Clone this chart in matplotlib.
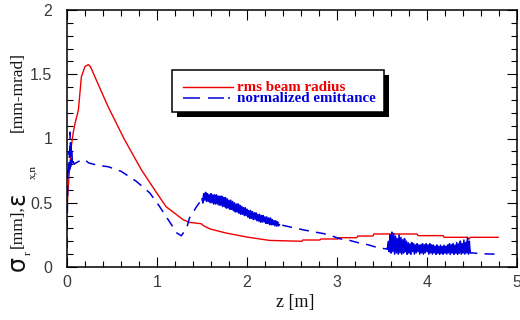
import numpy as np
import matplotlib
matplotlib.use("Agg")
import matplotlib.pyplot as plt
from matplotlib.ticker import MultipleLocator, FormatStrFormatter
from matplotlib.patches import Rectangle
from matplotlib.lines import Line2D

plt.rcParams['lines.scale_dashes'] = False

# rms beam radius [mm] vs z [m]
radius_z = [0.0, 0.005, 0.01, 0.02, 0.03, 0.04, 0.05, 0.07, 0.09, 0.126, 0.16, 0.2,
            0.237, 0.26, 0.31, 0.455, 0.64, 0.826, 0.974, 1.1, 1.29, 1.36, 1.49,
            1.52, 1.59, 1.77, 2.0, 2.25, 2.61, 2.62, 2.81, 2.82, 3.01, 3.02, 3.22,
            3.23, 3.40, 3.41, 3.89, 3.90, 4.18, 4.19, 4.45, 4.46, 4.47, 4.48, 4.79]
radius_mm = [0.45, 0.50, 0.59, 0.68, 0.78, 0.85, 0.95, 1.05, 1.12, 1.22, 1.48, 1.56,
             1.575, 1.56, 1.48, 1.25, 0.99, 0.757, 0.60, 0.47, 0.368, 0.347, 0.337,
             0.32, 0.296, 0.264, 0.233, 0.207, 0.20, 0.21, 0.21, 0.218, 0.218, 0.228,
             0.228, 0.241, 0.241, 0.257, 0.257, 0.244, 0.244, 0.231, 0.231, 0.218,
             0.218, 0.231, 0.231]

# normalized emittance [mm-mrad], read in pieces
emit_head_z = [0.0, 0.005, 0.01, 0.015, 0.02, 0.025, 0.03, 0.035, 0.04, 0.045, 0.05,
               0.055, 0.06, 0.07, 0.08, 0.1, 0.15, 0.2, 0.24, 0.35, 0.46, 0.6, 0.77,
               0.92, 1.015, 1.125, 1.16, 1.22, 1.27, 1.33, 1.36, 1.44]
emit_head = [0.15, 0.5, 0.72, 0.78, 0.74, 0.9, 0.76, 1.05, 0.78, 0.98, 0.8,
             0.9, 0.79, 0.82, 0.8, 0.81, 0.83, 0.835, 0.81, 0.79, 0.78, 0.745, 0.667,
             0.576, 0.485, 0.368, 0.33, 0.265, 0.243, 0.303, 0.38, 0.47]

# noisy stretch 1.50 .. 2.36 m, every 0.01 m
emit_noise1 = [0.53, 0.50, 0.57, 0.52, 0.58, 0.51, 0.57, 0.51, 0.56, 0.50,
               0.57, 0.50, 0.56, 0.49, 0.56, 0.49, 0.56, 0.49, 0.55, 0.48,
               0.55, 0.48, 0.55, 0.47, 0.54, 0.47, 0.54, 0.46, 0.53, 0.46,
               0.52, 0.45, 0.52, 0.45, 0.51, 0.44, 0.50, 0.43, 0.49, 0.43,
               0.49, 0.42, 0.48, 0.41, 0.47, 0.41, 0.46, 0.40, 0.46, 0.40,
               0.45, 0.39, 0.44, 0.38, 0.44, 0.38, 0.43, 0.37, 0.42, 0.37,
               0.42, 0.36, 0.41, 0.36, 0.41, 0.35, 0.40, 0.35, 0.40, 0.35,
               0.39, 0.34, 0.39, 0.34, 0.38, 0.33, 0.38, 0.33, 0.37, 0.33,
               0.36, 0.32, 0.36, 0.32, 0.35, 0.32, 0.33]

emit_mid_z = [2.45, 2.55, 2.62, 2.73, 2.85, 2.93, 3.03, 3.14, 3.23, 3.34, 3.44, 3.50]
emit_mid = [0.316, 0.30, 0.29, 0.275, 0.26, 0.245, 0.22, 0.207, 0.19, 0.174, 0.153, 0.145]

# noisy stretch 3.56 .. 4.48 m, every 0.01 m
emit_noise2 = [0.14, 0.20, 0.12, 0.25, 0.11, 0.27, 0.12, 0.26, 0.10, 0.24,
               0.11, 0.22, 0.10, 0.25, 0.11, 0.23, 0.10, 0.21, 0.11, 0.22,
               0.12, 0.20, 0.10, 0.19, 0.11, 0.18, 0.10, 0.19, 0.12, 0.18,
               0.10, 0.17, 0.11, 0.18, 0.12, 0.17, 0.10, 0.17, 0.11, 0.18,
               0.10, 0.17, 0.11, 0.18, 0.12, 0.17, 0.10, 0.18, 0.11, 0.17,
               0.10, 0.17, 0.11, 0.16, 0.10, 0.17, 0.11, 0.16, 0.10, 0.17,
               0.11, 0.16, 0.10, 0.17, 0.11, 0.16, 0.10, 0.17, 0.11, 0.18,
               0.10, 0.17, 0.11, 0.18, 0.10, 0.17, 0.11, 0.19, 0.10, 0.18,
               0.11, 0.20, 0.10, 0.18, 0.11, 0.21, 0.10, 0.19, 0.11, 0.23,
               0.10, 0.20, 0.11]

emit_tail_z = [4.50, 4.60, 4.76]
emit_tail = [0.11, 0.103, 0.10]

noise1_z = np.linspace(1.50, 2.36, len(emit_noise1))
noise2_z = np.linspace(3.56, 4.48, len(emit_noise2))
emit_z = np.concatenate([emit_head_z, noise1_z, emit_mid_z, noise2_z, emit_tail_z])
emit_val = np.concatenate([emit_head, emit_noise1, emit_mid, emit_noise2, emit_tail])

RED = '#ee0000'
BLUE = '#0000dd'

fig = plt.figure(figsize=(5.2, 3.2), dpi=100)
ax = fig.add_axes([67 / 520, 53 / 320, 450 / 520, 257 / 320])

ax.plot(radius_z, radius_mm, color=RED, lw=1.0)
ax.plot(emit_z, emit_val, color=BLUE, lw=1.1, linestyle=(0, (7.2, 5.2)))
# dense jitter: dashes overlap there and read as a solid band
ax.plot(noise1_z, emit_noise1, color=BLUE, lw=1.1)
ax.plot(noise2_z, emit_noise2, color=BLUE, lw=1.1)

ax.set_xlim(0, 5)
ax.set_ylim(0, 2)
ax.xaxis.set_major_locator(MultipleLocator(1))
ax.xaxis.set_minor_locator(MultipleLocator(0.2))
ax.yaxis.set_major_locator(MultipleLocator(0.5))
ax.yaxis.set_minor_locator(MultipleLocator(0.1))
ax.xaxis.set_major_formatter(FormatStrFormatter('%g'))
ax.yaxis.set_major_formatter(FormatStrFormatter('%g'))
ax.tick_params(which='both', direction='in', top=True, right=True, width=0.8,
               color='black')
ax.tick_params(which='major', length=7.2)
ax.tick_params(which='minor', length=4.3)
ax.tick_params(axis='y', pad=10.5)
ax.tick_params(axis='x', pad=6)
for lab in ax.get_xticklabels() + ax.get_yticklabels():
    lab.set_fontfamily('Liberation Sans')
    lab.set_fontsize(11.5)
    lab.set_color('#3a3a3a')
for s in ax.spines.values():
    s.set_linewidth(1.1)

# x label
fig.text(295 / 520, 1 - 307.5 / 320, 'z [m]', family='Liberation Serif',
         fontsize=13, ha='center', va='baseline', color='#111')

# y label built from pieces (big greek letters, small subscripts)
def ylab(txt, y_px, base_px, size, family='Liberation Serif'):
    fig.text(base_px / 520, 1 - y_px / 320, txt, rotation=90, rotation_mode='anchor',
             ha='left', va='baseline', fontsize=size, family=family, color='#111')

ylab('σ', 271, 25, 17, 'DejaVu Sans')
ylab('r', 255, 31, 8)
ylab('[mm],', 248, 21.5, 12.5)
ylab('ε', 205, 25, 17, 'DejaVu Sans')
ylab('x,n', 179, 35, 8)
ylab('[mm-mrad]', 132.5, 21.5, 12.5)

# legend box with black drop shadow
def fx(x):
    return (x - 67) / 450

def fy(y):
    return (267 - y) / 257

ax.add_patch(Rectangle((fx(176.5), fy(116.7)), fx(389) - fx(176.5), fy(75) - fy(116.7),
                       transform=ax.transAxes, facecolor='black', edgecolor='none',
                       zorder=5))
ax.add_patch(Rectangle((fx(172.3), fy(111.7)), fx(384) - fx(172.3), fy(70) - fy(111.7),
                       transform=ax.transAxes, facecolor='white', edgecolor='black',
                       lw=1.1, zorder=6))
ax.add_line(Line2D([fx(182.7), fx(233.3)], [fy(86.7), fy(86.7)], transform=ax.transAxes,
                   color=RED, lw=1.0, zorder=7))
ax.add_line(Line2D([fx(183), fx(230.5)], [fy(97.7), fy(97.7)], transform=ax.transAxes,
                   color=BLUE, lw=1.1, linestyle=(0, (12.2, 5.8, 11.5, 2.9, 1.4, 2.9)),
                   zorder=7))
ax.text(fx(237), fy(90.7), 'rms beam radius', transform=ax.transAxes, color=RED,
        family='Liberation Serif', weight='bold', fontsize=10.8, va='baseline', zorder=7)
ax.text(fx(237), fy(101.7), 'normalized emittance', transform=ax.transAxes, color=BLUE,
        family='Liberation Serif', weight='bold', fontsize=10.8, va='baseline', zorder=7)

fig.savefig('out.png', dpi=100)
